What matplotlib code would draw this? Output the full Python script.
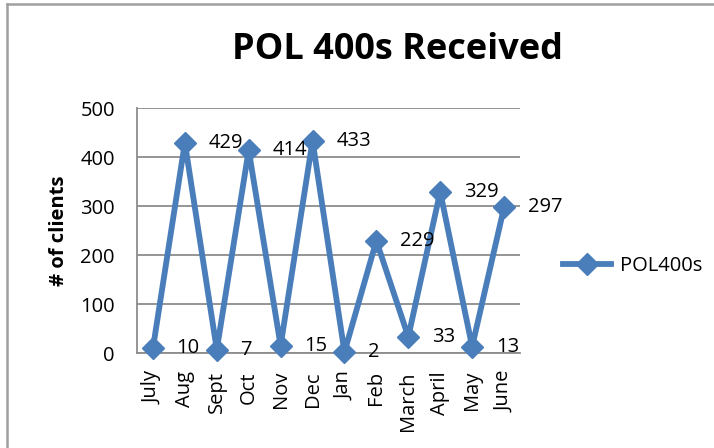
import matplotlib
matplotlib.use("Agg")
import matplotlib.pyplot as plt
from matplotlib.lines import Line2D

months = ["July", "Aug", "Sept", "Oct", "Nov", "Dec", "Jan", "Feb", "March", "April", "May", "June"]
values = [10, 429, 7, 414, 15, 433, 2, 229, 33, 329, 13, 297]
yticks = [0, 100, 200, 300, 400, 500]
series_name = "POL400s"
title = "POL 400s Received"
ylabel = "# of clients"

FONT = "Open Sans"
BLUE = "#4A7EBB"
GRID = "#8C8C8C"
FS = 14.5

fig = plt.figure(figsize=(7.14, 4.48), dpi=100)
ax = fig.add_axes([137/714, 1-353/448, (520-137)/714, (353-108)/448])

x = list(range(len(months)))
ax.plot(x, values, color=BLUE, lw=4.2, marker="D", markersize=11, markerfacecolor=BLUE,
        markeredgecolor=BLUE, zorder=3, clip_on=False)

for xi, v in zip(x, values):
    ax.annotate(str(v), (xi, v), xytext=(17, 0), textcoords="offset points",
                ha="left", va="center", fontsize=FS, family=FONT, color="black",
                zorder=4, annotation_clip=False)

ax.set_xlim(-0.5, len(months) - 0.5)
ax.set_ylim(0, 500)
ax.set_yticks(yticks)
ax.set_yticklabels([str(t) for t in yticks], fontsize=FS, family=FONT)
ax.set_xticks(x)
ax.set_xticklabels(months, rotation=90, fontsize=FS, family=FONT)
ax.tick_params(axis="y", length=0, pad=16)
ax.tick_params(axis="x", length=0, pad=13)
ax.yaxis.grid(True, color=GRID, lw=1.3)
ax.set_axisbelow(True)
for s in ["top", "right"]:
    ax.spines[s].set_visible(False)
for s in ["left", "bottom"]:
    ax.spines[s].set_color(GRID)
    ax.spines[s].set_linewidth(1.3)

ax.set_ylabel(ylabel, fontsize=FS, family=FONT, fontweight="bold", labelpad=8)

fig.text(397/714, 1-50/448, title, ha="center", va="center", fontsize=26,
         family=FONT, fontweight="bold")

# legend
handle = Line2D([0], [0], color=BLUE, lw=4.2, marker="D", markersize=11,
                markerfacecolor=BLUE, markeredgecolor=BLUE)
leg = fig.legend([handle], [series_name], loc="center left",
                 bbox_to_anchor=(545/714, 1-266/448), frameon=False,
                 prop={"family": FONT, "size": FS}, handlelength=2.4,
                 handletextpad=0.4)

# outer border (left and top)
fig.add_artist(Line2D([6.5/714, 6.5/714], [0, 1-4/448], transform=fig.transFigure,
                      color="#A0A0A0", lw=1.8))
fig.add_artist(Line2D([6.5/714, 1], [1-4/448, 1-4/448], transform=fig.transFigure,
                      color="#A0A0A0", lw=1.8))

fig.savefig("out.png", dpi=100)
